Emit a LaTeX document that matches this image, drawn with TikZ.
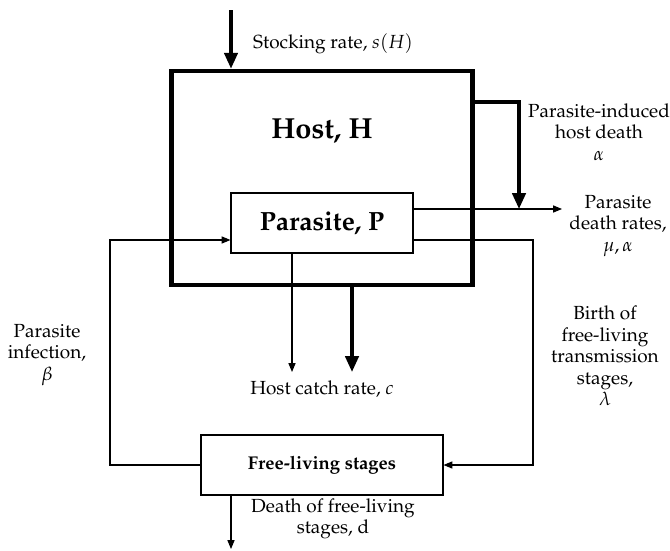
\documentclass[tikz,border=0pt]{standalone}
\usepackage[T1]{fontenc}
\usepackage{mathpazo}
\usetikzlibrary{arrows.meta}

\begin{document}
\begin{tikzpicture}[x=0.02cm, y=-0.02cm, line width=0.6pt, font=\fontsize{10.8}{12.2}\selectfont]
\tikzset{
  hbox/.style={draw, line width=2.6pt, minimum width=6.02cm, minimum height=4.28cm, inner sep=0pt},
  pbox/.style={draw, fill=white, minimum width=3.64cm, minimum height=1.2cm, inner sep=0pt, font=\fontsize{15}{18}\selectfont\bfseries},
  fbox/.style={draw, minimum width=4.84cm, minimum height=1.2cm, inner sep=0pt, font=\fontsize{10.5}{12}\selectfont\bfseries},
  rlbl/.style={align=center, inner sep=1pt},
  thinflow/.style={-{Triangle[length=5pt, width=4pt]}, line width=0.6pt},
  thickflow/.style={-{Triangle[length=9pt, width=7.5pt]}, line width=2pt}
}
\useasboundingbox (0,0) rectangle (670,551);

% compartments
\node[hbox] (host) at (322,178) {};
\node[font=\fontsize{16.5}{19}\selectfont\bfseries] (hosttxt) at (322,131) {Host, H};
\node[pbox] (par) at (322,223) {Parasite, P};
\node[fbox] (free) at (322,465) {Free-living stages};

% rate labels
\node[rlbl] (stock) at (333,44) {Stocking rate, $s(H)$};
\node[rlbl] (hdeath) at (599,132) {Parasite-induced\\host death\\$\alpha$};
\node[rlbl] (pdeath) at (618,226) {Parasite\\death rates,\\$\mu,\alpha$};
\node[rlbl] (catch) at (322,389) {Host catch rate, $c$};
\node[rlbl] (infect) at (47,355) {Parasite\\infection,\\$\beta$};
\node[rlbl] (birth) at (605,356) {Birth of\\free-living\\transmission\\stages,\\$\lambda$};
\node[rlbl] (fdeath) at (333,519) {Death of free-living\\stages, d};

% bend and end points
\coordinate (stocktop) at (231,10);
\coordinate (hdbend) at (519,102);
\coordinate (pdend) at (562,209);
\coordinate (catchp) at (292,372);
\coordinate (catchh) at (352,372);
\coordinate (infbend) at (110,240);
\coordinate (birthbend) at (533,240);
\coordinate (fdend) at (231,549);

\draw[thickflow] (stocktop) -- (stocktop |- host.north);
\draw[thinflow] (par.east |- pdend) -- (pdend);
\draw[thickflow] (host.east |- hdbend) -- (hdbend) -- (hdbend |- pdend);
\draw[thinflow] (par.south -| catchp) -- (catchp);
\draw[thickflow] (host.south -| catchh) -- (catchh);
\draw[thinflow] (free.west) -| (infbend) -- (par.west |- infbend);
\draw[thinflow] (par.east |- birthbend) -- (birthbend) |- (free.east);
\draw[thinflow] (free.south -| fdend) -- (fdend);
\end{tikzpicture}
\end{document}
